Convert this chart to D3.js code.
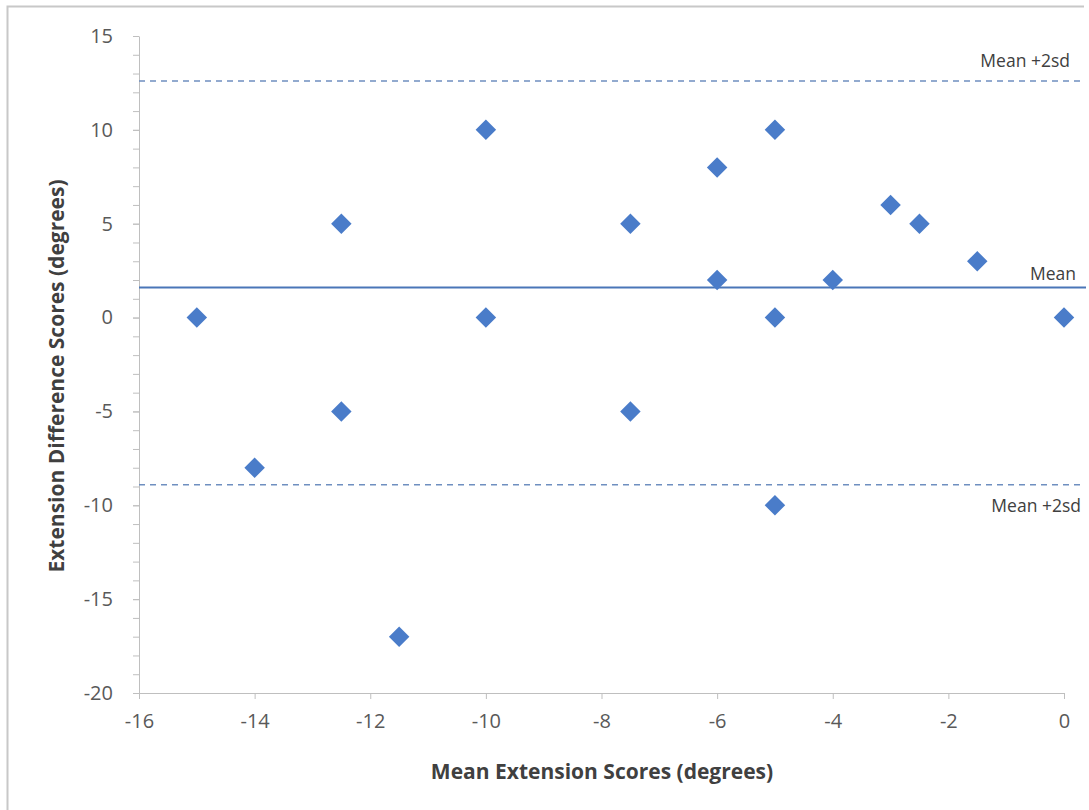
<!DOCTYPE html>
<html>
  <head>
    <meta charset="utf-8">
    <title></title>
  </head>
  <style>
  body{
      margin: 0;
      background-color: #fff;
      font-family: "Open Sans", "DejaVu Sans", sans-serif;
    }
   .axis text{
      fill: #595959;
      font-family: "Open Sans", sans-serif;
    }
   .axis path, .axis line{
      stroke: #bfbfbf
    }
  </style>
  <script src="https://d3js.org/d3.v7.min.js"></script>
  <body>
    <script>
    // mean of the two extension scores / difference between them
    const meanScores = [-15, -14, -12.5, -12.5, -11.5, -10, -10, -7.5, -7.5, -6, -6, -5, -5, -5, -4, -3, -2.5, -1.5, 0]
    const diffScores = [0, -8, 5, -5, -17, 10, 0, 5, -5, 8, 2, 10, 0, -10, 2, 6, 5, 3, 0]

    const meanDiff = 1.6
    const upperLimit = 12.6
    const lowerLimit = -8.9
    const refLabels = ["Mean +2sd", "Mean", "Mean +2sd"]

    const xTicks = [-16, -14, -12, -10, -8, -6, -4, -2, 0]
    const yTicks = [15, 10, 5, 0, -5, -10, -15, -20]

    var W = 1089, H = 810
    var padding = { left:139, top:36, right:25, bottom:117 }
    var fmt = d => String(d)   // plain hyphen minus like the original

    var svg = d3.select("body")
                .append("svg")
                .attr("width", W)
                .attr("height", H)

    // outer frame (only top and left visible)
    svg.append("path")
       .attr("d", "M7.5,810 V6.5 H1084")
       .attr("fill", "none")
       .attr("stroke", "#c8c8c8")
       .attr("stroke-width", 2)

    let xScale = d3.scaleLinear()
                   .domain([-16, 0])
                   .range([padding.left, 1064])
    let yScale = d3.scaleLinear()
                   .domain([-20, 15])
                   .range([693, padding.top])

    // y minor ticks
    svg.append("g")
       .attr("class", "axis")
       .attr("transform", "translate(" + padding.left + ",0)")
       .call(d3.axisLeft(yScale).tickValues(d3.range(-20, 16, 1)).tickSize(6).tickFormat(""))
       .select(".domain").remove()

    // y axis
    let yAxis = svg.append("g")
       .attr("class", "axis")
       .attr("transform", "translate(" + padding.left + ",0)")
       .call(d3.axisLeft(yScale).tickValues(yTicks).tickFormat(fmt).tickSizeInner(6).tickSizeOuter(0).tickPadding(20))
    yAxis.selectAll("text").style("font-size", "20px")

    // x axis
    let xAxis = svg.append("g")
       .attr("class", "axis")
       .attr("transform", "translate(0,693)")
       .call(d3.axisBottom(xScale).tickValues(xTicks).tickFormat(fmt).tickSizeInner(6).tickSizeOuter(0).tickPadding(15))
    xAxis.selectAll("text").style("font-size", "20px")

    // reference lines
    svg.append("line")
       .attr("x1", padding.left).attr("x2", 1083)
       .attr("y1", yScale(upperLimit)).attr("y2", yScale(upperLimit))
       .attr("stroke", "#6f8fc0").attr("stroke-width", 1.5)
       .attr("stroke-dasharray", "6,5")
    svg.append("line")
       .attr("x1", padding.left).attr("x2", 1086)
       .attr("y1", yScale(meanDiff)).attr("y2", yScale(meanDiff))
       .attr("stroke", "#4a76b8").attr("stroke-width", 2)
    svg.append("line")
       .attr("x1", padding.left).attr("x2", 1083)
       .attr("y1", yScale(lowerLimit)).attr("y2", yScale(lowerLimit))
       .attr("stroke", "#6f8fc0").attr("stroke-width", 1.5)
       .attr("stroke-dasharray", "6,5")

    // labels of the reference lines
    var labelPos = [
      { x: 1070, y: yScale(upperLimit) - 14 },
      { x: 1076, y: yScale(meanDiff) - 8 },
      { x: 1081, y: yScale(lowerLimit) + 27 }
    ]
    svg.selectAll(".reflabel")
       .data(refLabels)
       .enter()
       .append("text")
       .attr("class", "reflabel")
       .attr("x", (d, i) => labelPos[i].x)
       .attr("y", (d, i) => labelPos[i].y)
       .attr("text-anchor", "end")
       .attr("font-size", "17.5px")
       .attr("fill", "#404040")
       .text(d => d)

    // points as diamonds
    var points = meanScores.map((m, i) => [m, diffScores[i]])
    var diamond = d3.symbol().type(d3.symbolSquare).size(210)
    svg.append("g")
       .selectAll("path")
       .data(points)
       .enter()
       .append("path")
       .attr("d", diamond)
       .attr("transform", d => "translate(" + xScale(d[0]) + "," + yScale(d[1]) + ") rotate(45)")
       .attr("fill", "#4a7cc9")

    // axis titles
    svg.append("text")
       .attr("x", 602)
       .attr("y", 779)
       .attr("text-anchor", "middle")
       .attr("font-size", "21px")
       .attr("font-weight", "bold")
       .attr("fill", "#404040")
       .text("Mean Extension Scores (degrees)")

    svg.append("text")
       .attr("transform", "translate(64,376) rotate(-90)")
       .attr("text-anchor", "middle")
       .attr("font-size", "21px")
       .attr("font-weight", "bold")
       .attr("fill", "#404040")
       .text("Extension Difference Scores (degrees)")
    </script>
  </body>
</html>
